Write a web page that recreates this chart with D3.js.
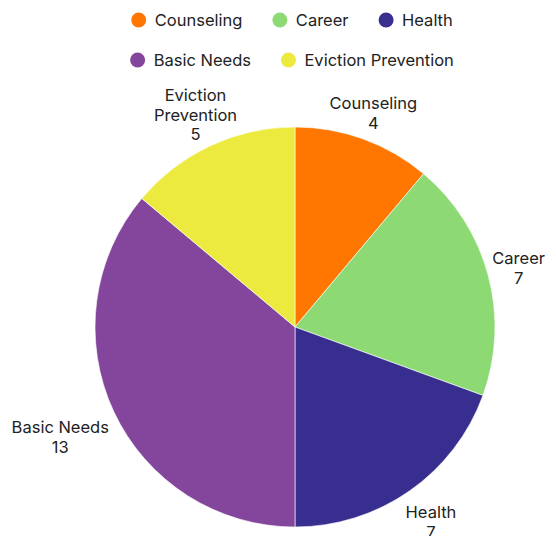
<!DOCTYPE html>
<html lang="en">
<head>
    <meta charset="utf-8">
    <script src="https://d3js.org/d3.v7.min.js"></script>
    <style>
        body { margin: 0; background: #fff; }
        svg text { font-family: Inter, "Open Sans", sans-serif; fill: #222; }
    </style>
</head>
<body>
    <script>
        const categories = ['Counseling', 'Career', 'Health', 'Basic Needs', 'Eviction Prevention'];
        const values = [4, 7, 7, 13, 5];
        const colors = ['#ff7700', '#8dda74', '#382e8f', '#84469c', '#ecea3e'];

        const width = 556, height = 536;
        const cx = 295, cy = 327, radius = 200;
        const labelRadius = 229;   // where label centres start
        const labelClear = 6;      // min gap between a text line and the rim
        const fontSize = 16.5;
        const lineH = 20;

        const svg = d3.select('body').append('svg')
            .attr('width', width)
            .attr('height', height);

        const color = d3.scaleOrdinal().domain(categories).range(colors);

        const pie = d3.pie().sort(null).value((d, i) => values[i]);
        const arc = d3.arc().innerRadius(0).outerRadius(radius);
        const arcs = pie(categories);

        const g = svg.append('g').attr('transform', 'translate(' + cx + ',' + cy + ')');

        g.selectAll('path')
            .data(arcs)
            .enter()
            .append('path')
            .attr('d', arc)
            .attr('fill', d => color(d.data))
            .attr('stroke', '#fff')
            .attr('stroke-width', 0.6);

        const labels = g.selectAll('g.label')
            .data(arcs)
            .enter()
            .append('g')
            .attr('class', 'label');

        labels.each(function (d, i) {
            const el = d3.select(this);

            // wrap the name, value goes on its own line
            const words = d.data.split(' ');
            const lines = [];
            let cur = '';
            const probe = el.append('text').style('font-size', fontSize + 'px');
            words.forEach(w => {
                const test = cur ? cur + ' ' + w : w;
                probe.text(test);
                if (cur && probe.node().getComputedTextLength() > 110) {
                    lines.push(cur);
                    cur = w;
                } else {
                    cur = test;
                }
            });
            lines.push(cur);
            lines.push(String(values[i]));
            probe.remove();

            const text = el.append('text')
                .attr('text-anchor', 'middle')
                .style('font-size', fontSize + 'px');
            const lineW = [];
            lines.forEach((l, k) => {
                const t = text.append('tspan')
                    .attr('x', 0)
                    .attr('y', (k - (lines.length - 1) / 2) * lineH)
                    .attr('dy', '0.42em')
                    .text(l);
                lineW.push(t.node().getComputedTextLength());
            });

            // slide outward along the mid angle until no line box touches the pie
            const a = (d.startAngle + d.endAngle) / 2;
            const vx = Math.sin(a), vy = -Math.cos(a);
            const minDist = (r) => d3.min(lines, (l, k) => {
                const x = vx * r, y = vy * r + (k - (lines.length - 1) / 2) * lineH;
                const hw = lineW[k] / 2, hh = lineH / 2;
                const nx = Math.max(0, Math.abs(x) - hw);
                const ny = Math.max(0, Math.abs(y) - hh);
                return Math.hypot(nx, ny);
            });
            let r = labelRadius;
            while (minDist(r) < radius + labelClear && r < radius + 120) r += 0.5;
            el.attr('transform', 'translate(' + (vx * r) + ',' + (vy * r) + ')');
        });

        // legend, wrapped into centred rows
        const legendMaxW = 340, legendCenter = 292, legendGap = 30;
        const legend = svg.append('g').attr('class', 'legend');
        const items = legend.selectAll('g')
            .data(categories)
            .enter()
            .append('g');

        items.append('circle')
            .attr('r', 7.5)
            .attr('cx', 7.5)
            .attr('fill', d => color(d));

        items.append('text')
            .attr('x', 23.5)
            .attr('dy', '0.35em')
            .style('font-size', fontSize + 'px')
            .text(d => d);

        const rows = [[]];
        let rowW = 0;
        items.each(function () {
            const w = this.getBBox().width;
            if (rowW > 0 && rowW + legendGap + w > legendMaxW) {
                rows.push([]);
                rowW = 0;
            }
            rowW += (rowW > 0 ? legendGap : 0) + w;
            rows[rows.length - 1].push({ node: this, w: w });
        });

        rows.forEach((row, ri) => {
            const total = d3.sum(row, d => d.w) + legendGap * (row.length - 1);
            let x = legendCenter - total / 2;
            row.forEach(it => {
                d3.select(it.node).attr('transform', 'translate(' + x + ',' + (20 + ri * 40) + ')');
                x += it.w + legendGap;
            });
        });
    </script>
</body>
</html>
